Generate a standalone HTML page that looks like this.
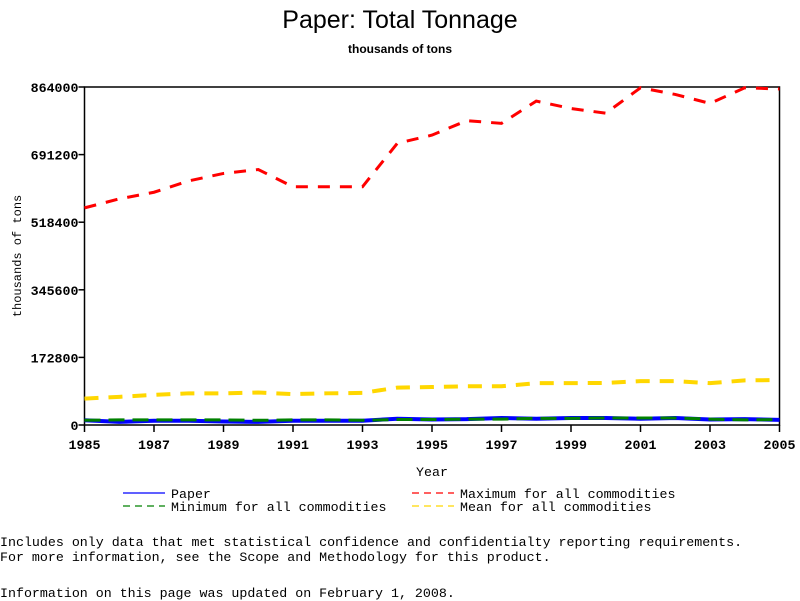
<!DOCTYPE html>
<html><head><meta charset="utf-8"><style>
body{margin:0;background:#fff;width:800px;height:600px;overflow:hidden;position:relative;font-family:"Liberation Mono",monospace;}
.t{position:absolute;white-space:pre;color:#000;}
</style></head><body>
<div class="t" style="left:0;width:800px;text-align:center;top:6px;font-family:'Liberation Sans',sans-serif;font-size:25px;">Paper: Total Tonnage</div>
<div class="t" style="left:0;width:800px;text-align:center;top:42px;font-family:'Liberation Sans',sans-serif;font-size:12px;font-weight:bold;">thousands of tons</div>
<svg id="chart" width="800" height="600" style="position:absolute;left:0;top:0" font-family="Liberation Mono, monospace" font-size="13.3"></svg>
<div class="t" style="left:0;top:535px;font-size:13.3px;">Includes only data that met statistical confidence and confidentialty reporting requirements.
For more information, see the Scope and Methodology for this product.</div>
<div class="t" style="left:0;top:586px;font-size:13.3px;">Information on this page was updated on February 1, 2008.</div>
<script>
const years=[1985,1986,1987,1988,1989,1990,1991,1992,1993,1994,1995,1996,1997,1998,1999,2000,2001,2002,2003,2004,2005];
const paper=[12000,8000,11000,11000,9000,8000,11000,11000,11000,16000,14000,15000,18000,16000,18000,18000,16000,18000,14000,15000,13000];
const minimum=[12000,13000,13000,13000,13000,12000,13000,13000,12000,14000,14000,15000,15000,17000,17000,18000,18000,18000,15000,13000,14000];
const maximum=[555000,578000,595000,624000,643000,653000,609000,609000,609000,720000,741000,778000,771000,828000,809000,797000,862000,845000,822000,862000,859000];
const mean=[67500,72000,77000,81000,81000,83000,79000,81000,82000,95600,97000,99000,99000,107000,107000,107500,112000,112000,107000,114000,115000];
const yTicks=[0,172800,345600,518400,691200,864000];
const xTicks=[1985,1987,1989,1991,1993,1995,1997,1999,2001,2003,2005];
const X0=84.5,X1=779.5,Y0=425,Y1=87;
const sx=v=>X0+(v-1985)/(2005-1985)*(X1-X0);
const sy=v=>Y0-v/864000*(Y0-Y1);
const svg=document.getElementById('chart');
const NS='http://www.w3.org/2000/svg';
function mk(tag,attrs){const e=document.createElementNS(NS,tag);for(const k in attrs)e.setAttribute(k,attrs[k]);svg.appendChild(e);return e;}
let e=mk('rect',{x:X0,y:Y1,width:X1-X0,height:Y0-Y1,fill:'none',stroke:'#000','stroke-width':1.5});


yTicks.forEach(v=>{
 let l=mk('line',{x1:X0-6,x2:X0,y1:sy(v),y2:sy(v),stroke:'#000','stroke-width':1.5});
 
 
 let t=mk('text',{x:X0-6,y:sy(v)+5,'text-anchor':'end','font-weight':'bold'});t.textContent=v;
 
 
});
xTicks.forEach(v=>{
 let l=mk('line',{x1:sx(v),x2:sx(v),y1:Y0,y2:Y0+7,stroke:'#000','stroke-width':1.5});
 
 
 let t=mk('text',{x:sx(v),y:Y0+24,'text-anchor':'middle','font-weight':'bold'});t.textContent=v;
 
 
});
let xt=mk('text',{x:432,y:476,'text-anchor':'middle'});xt.textContent='Year';


let yt=mk('text',{x:0,y:0,'text-anchor':'middle','font-size':'12',transform:'translate(21,256) rotate(-90)'});yt.textContent='thousands of tons';


function series(vals,color,w,dash,name){
 const p=mk('polyline',{points:vals.map((v,i)=>sx(years[i])+','+sy(v)).join(' '),fill:'none',stroke:color,'stroke-width':w,'stroke-dasharray':dash});
 
 
}
series(mean,'#ffd700',4,'14,10','mean-line');
series(maximum,'#ff0000',3,'12,10','maximum-line');
series(paper,'#0000ff',4,'none','paper-line');
series(minimum,'#008000',3,'16,8','minimum-line');
function legend(x,y,color,dash,label,name){
 let l=mk('line',{x1:x,x2:x+42,y1:y,y2:y,stroke:color,'stroke-width':1.2,'stroke-dasharray':dash});
 
 
 let t=mk('text',{x:x+48,y:y+5});t.textContent=label;
 
 
}
legend(123,493,'#0000ff','none','Paper','legend-paper');
legend(412,493,'#ff0000','7,5','Maximum for all commodities','legend-maximum');
legend(123,506,'#008000','7,5','Minimum for all commodities','legend-minimum');
legend(412,506,'#ffd700','7,5','Mean for all commodities','legend-mean');
</script>
</body></html>
